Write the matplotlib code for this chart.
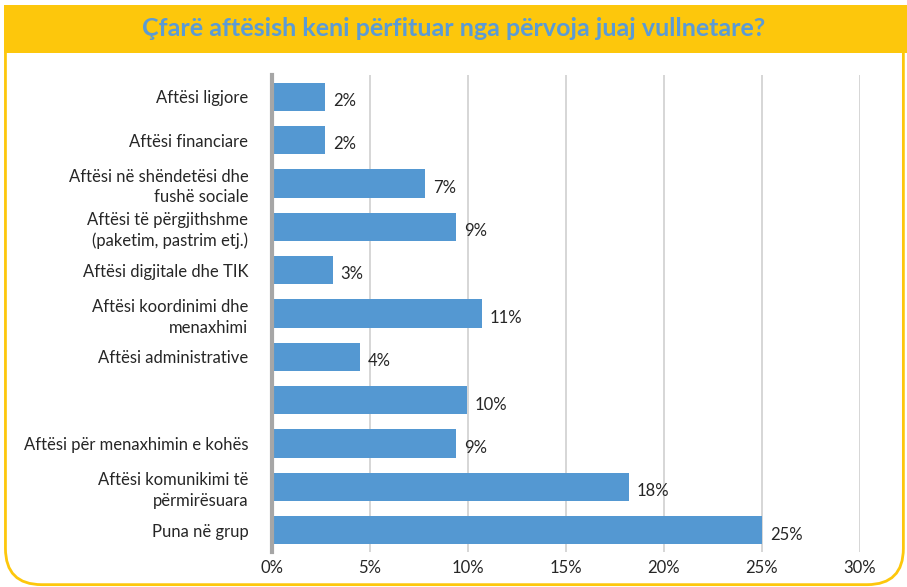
import matplotlib.pyplot as plt
from matplotlib.patches import FancyBboxPatch, Rectangle

categories = ['Aftësi ligjore', 'Aftësi financiare', 'Aftësi në shëndetësi dhe\nfushë sociale',
              'Aftësi të përgjithshme\n(paketim, pastrim etj.)', 'Aftësi digjitale dhe TIK',
              'Aftësi koordinimi dhe\nmenaxhimi', 'Aftësi administrative', '',
              'Aftësi për menaxhimin e kohës', 'Aftësi komunikimi të\npërmirësuara', 'Puna në grup']
values = [2.7, 2.7, 7.8, 9.4, 3.1, 10.7, 4.5, 9.95, 9.4, 18.2, 25.0]
value_labels = ['2%', '2%', '7%', '9%', '3%', '11%', '4%', '10%', '9%', '18%', '25%']
xticks = [0, 5, 10, 15, 20, 25, 30]
title = 'Çfarë aftësish keni përfituar nga përvoja juaj vullnetare?'

yellow = '#FDC70C'
blue = '#5498D2'
txt = '#262626'
plt.rcParams['font.family'] = ['Lato', 'DejaVu Sans']

fig = plt.figure(figsize=(9.07, 5.87), dpi=100)

# frame with rounded bottom + yellow title band (behind the axes)
frame = FancyBboxPatch((0.006, 0.004), 0.99, 0.985, boxstyle='round,pad=0,rounding_size=0.04',
                       transform=fig.transFigure, facecolor='white', edgecolor=yellow, linewidth=2,
                       mutation_aspect=907 / 587, zorder=-2)
fig.patches.append(frame)
fig.patches.append(Rectangle((0.004, 0.91), 0.996, 0.082, transform=fig.transFigure,
                             facecolor=yellow, edgecolor='none', zorder=-1))
fig.text(0.5, 0.952, title, ha='center', va='center', color='#5B9BD5', fontsize=18, fontweight='bold')

ax = fig.add_axes([272 / 907, 1 - 552 / 587, (860 - 272) / 907, (552 - 75) / 587])
ax.set_facecolor('none')
pos = list(range(len(categories)))
ax.barh(pos, values, height=0.65, color=blue, zorder=3)
for p, v, lab in zip(pos, values, value_labels):
    ax.text(v + 0.4, p + 0.1, lab, va='center', ha='left', fontsize=12, color=txt)

ax.set_ylim(len(categories) - 0.5, -0.5)
ax.set_xlim(0, 30)
ax.set_yticks(pos)
ax.set_yticklabels(categories, fontsize=12, color=txt, linespacing=1.35)
ax.set_xticks(xticks)
ax.set_xticklabels([f'{t}%' for t in xticks], fontsize=12, color=txt)
ax.tick_params(axis='y', length=0, pad=17)
ax.tick_params(axis='x', length=0, pad=6)
ax.xaxis.grid(True, color='#D0D0D0', linewidth=1.2, zorder=0)
ax.set_axisbelow(True)
for s in ['top', 'right', 'bottom']:
    ax.spines[s].set_visible(False)
ax.spines['left'].set_color('#A6A6A6')
ax.spines['left'].set_linewidth(3)
ax.spines['left'].set_zorder(4)

fig.savefig('out.png', dpi=100)
